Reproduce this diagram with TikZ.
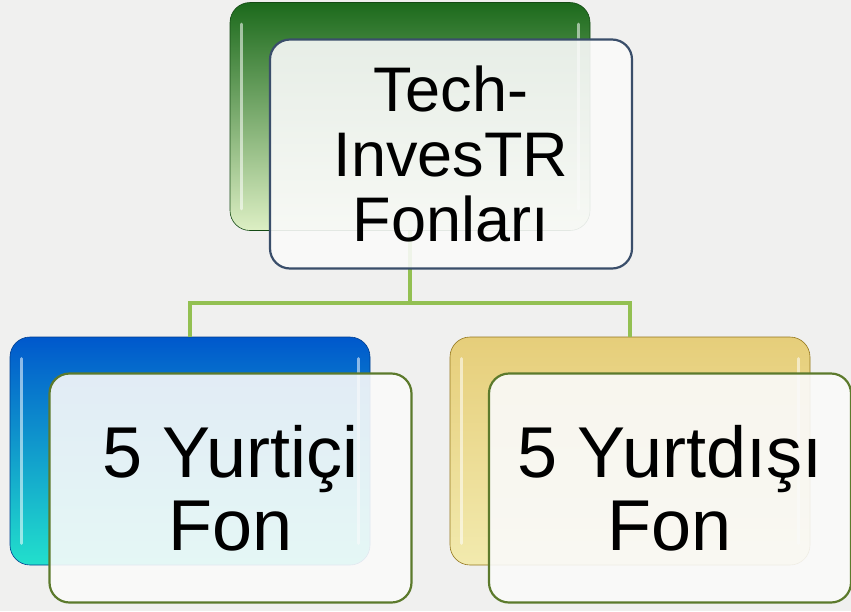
\documentclass[tikz,border=0pt]{standalone}
\usepackage{fontspec}
\setmainfont{Liberation Sans}
\definecolor{bgc}{HTML}{F0F0EF}
\definecolor{conn}{HTML}{93C052}
\definecolor{topedge}{HTML}{3A4E6A}
\definecolor{botedge}{HTML}{5C7A2C}
\definecolor{gtop}{HTML}{1C6A1C}
\definecolor{gmid}{HTML}{4E9A3A}
\definecolor{gbot}{HTML}{DDEFC4}
\definecolor{btop}{HTML}{0058CC}
\definecolor{bmid}{HTML}{0A8AE0}
\definecolor{bbot}{HTML}{22E0CC}
\definecolor{ytop}{HTML}{E6CE7A}
\definecolor{ymid}{HTML}{D2A828}
\definecolor{ybot}{HTML}{F2EAAE}
\tikzset{
  backbox/.style={rectangle, rounded corners=20pt, minimum width=360pt,
    minimum height=228pt, inner sep=0pt, draw=#1!70!black, line width=0.6pt},
  frontbox/.style={rectangle, rounded corners=20pt, minimum width=362pt,
    minimum height=229pt, inner sep=0pt, fill=white!96!gray, fill opacity=0.9,
    text opacity=1, line width=2.2pt, align=center},
  gloss/.style={white, line width=3pt, opacity=0.55, line cap=round},
  connline/.style={conn, line width=4pt}
}
\begin{document}
\begin{tikzpicture}[x=1pt,y=-1pt]
\fill[bgc] (0,0) rectangle (851,611);
\useasboundingbox (0,0) rectangle (851,611);
% back boxes
\node[backbox=gtop, top color=gtop, middle color=gmid, bottom color=gbot] (tb) at (410,116.5) {};
\node[backbox=btop, top color=btop, middle color=bmid, bottom color=bbot] (lb) at (190,451) {};
\node[backbox=ymid, top color=ytop, middle color=ymid, bottom color=ybot] (rb) at (630,451) {};
\draw[gloss] ([xshift=12pt,yshift=-22pt]tb.north west) -- ([xshift=12pt,yshift=22pt]tb.south west);
\draw[gloss] ([xshift=-12pt,yshift=-22pt]tb.north east) -- ([xshift=-12pt,yshift=22pt]tb.south east);
\draw[gloss] ([xshift=12pt,yshift=-22pt]lb.north west) -- ([xshift=12pt,yshift=22pt]lb.south west);
\draw[gloss] ([xshift=-12pt,yshift=-22pt]lb.north east) -- ([xshift=-12pt,yshift=22pt]lb.south east);
\draw[gloss] ([xshift=12pt,yshift=-22pt]rb.north west) -- ([xshift=12pt,yshift=22pt]rb.south west);
\draw[gloss] ([xshift=-12pt,yshift=-22pt]rb.north east) -- ([xshift=-12pt,yshift=22pt]rb.south east);
% connectors
\coordinate (j) at (410,303);
\draw[connline] (tb.south) -- ++(0,40) -- (j);
\draw[connline] (j) -| (lb.north);
\draw[connline] (j) -| (rb.north);
% front boxes
\node[frontbox, draw=topedge, font=\fontsize{63}{65}\selectfont] (tf) at (451,154) {Tech-\\InvesTR\\Fonları};
\node[frontbox, draw=botedge, font=\fontsize{72}{73}\selectfont] (lf) at (230.5,488) {5 Yurtiçi\\Fon};
\node[frontbox, draw=botedge, font=\fontsize{72}{73}\selectfont] (rf) at (670,488) {5 Yurtdışı\\Fon};
\end{tikzpicture}
\end{document}
